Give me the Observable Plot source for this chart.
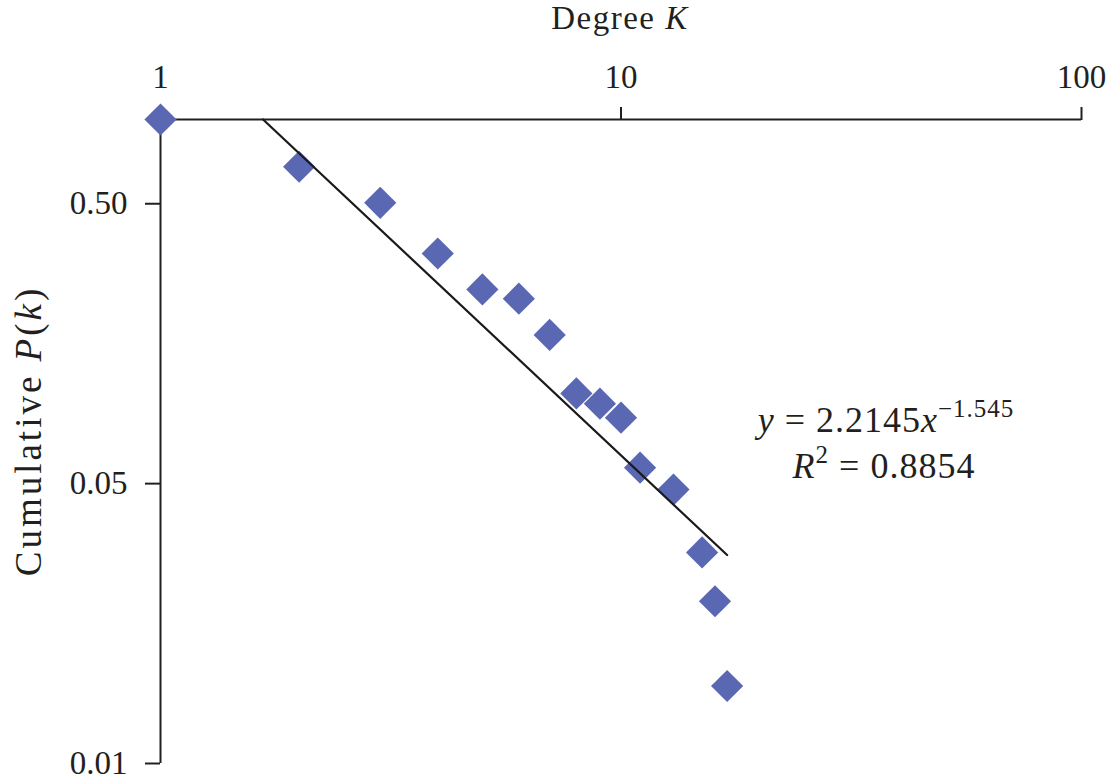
<!DOCTYPE html>
<html>
<head>
<meta charset="utf-8">
<script src="https://cdn.jsdelivr.net/npm/d3@7"></script>
<script src="https://cdn.jsdelivr.net/npm/@observablehq/plot@0.6"></script>
<style>
  html, body { margin: 0; padding: 0; background: #ffffff; }
  #chart { width: 1120px; height: 783px; }
</style>
</head>
<body>
<div id="chart"></div>
<script>
// ---- data ----
const degreeK     = [1, 2, 3, 4, 5, 6, 7, 8, 9, 10, 11, 13, 15, 16, 17];
const cumulativeP = [1.0, 0.678, 0.504, 0.332, 0.247, 0.229, 0.170, 0.105, 0.0965, 0.086, 0.057, 0.0476, 0.0284, 0.019, 0.00946];

// power-law trendline (straight on log-log), endpoints
const trendK = [1.67, 17];
const trendP = [1.0, 0.0278];

const xTicks = [1, 10, 100];
const xTickLabels = ["1", "10", "100"];
const yTicks = [0.5, 0.05, 0.005];
const yTickLabels = ["0.50", "0.05", "0.01"];

const xDomain = [1, 100];
const yDomain = [0.005, 1];

const xTitle = [{t: "Degree "}, {t: "K", i: true}];
const yTitle = [{t: "Cumulative "}, {t: "P", i: true}, {t: "("}, {t: "k", i: true}, {t: ")"}];
const eqLine1 = [{t: "y", i: true}, {t: " = 2.2145"}, {t: "x", i: true}, {t: "\u22121.545", sup: true}];
const eqLine2 = [{t: "R", i: true}, {t: "2", sup: true}, {t: " = 0.8854"}];

// ---- build ----
const points = degreeK.map((k, i) => ({k, p: cumulativeP[i]}));
const trend = trendK.map((k, i) => ({k, p: trendP[i]}));
const yTickRows = yTicks.map((v, i) => ({v, label: yTickLabels[i]}));

function labelFor(ticks, labels) {
  return d => {
    let best = 0, bestErr = Infinity;
    ticks.forEach((v, i) => {
      const e = Math.abs(Math.log(+d) - Math.log(v));
      if (e < bestErr) { bestErr = e; best = i; }
    });
    return labels[best];
  };
}

const ink = "#231f20";
const font = "'Liberation Serif', 'Times New Roman', serif";

const plot = Plot.plot({
  width: 1120,
  height: 783,
  marginLeft: 160,
  marginRight: 39,
  marginTop: 119,
  marginBottom: 20,
  style: {fontFamily: font, fontSize: "33px", color: ink, background: "#ffffff"},
  x: {type: "log", domain: xDomain},
  y: {type: "log", domain: yDomain},
  marks: [
    Plot.axisX({anchor: "top", ticks: xTicks, tickFormat: labelFor(xTicks, xTickLabels), tickSize: 13, tickPadding: 19, strokeWidth: 2, label: null}),
    Plot.axisY({anchor: "left", ticks: yTicks, tickFormat: () => "", tickSize: 15, strokeWidth: 2, label: null}),
    Plot.text(yTickRows, {y: "v", text: "label", frameAnchor: "left", textAnchor: "end", dx: -33, fontSize: 33, fill: ink}),
    Plot.ruleY([yDomain[1]], {stroke: ink, strokeWidth: 2}),
    Plot.ruleX([xDomain[0]], {stroke: ink, strokeWidth: 2}),
    Plot.dot(points, {x: "k", y: "p", symbol: "diamond2", r: 14.5, fill: "#5a68b4"}),
    Plot.line(trend, {x: "k", y: "p", stroke: "#1a1a1a", strokeWidth: 2.2})
  ]
});

document.getElementById("chart").appendChild(plot);

const svg = d3.select(plot.tagName.toLowerCase() === "svg" ? plot : plot.querySelector("svg"));

function rich(parts, attrs, size, supSize, supShift) {
  const t = svg.append("text")
    .attr("fill", ink)
    .attr("font-family", font)
    .attr("font-size", size);
  Object.entries(attrs).forEach(([k, v]) => t.attr(k, v));
  let shifted = false;
  parts.forEach(p => {
    const ts = t.append("tspan").text(p.t);
    if (p.i) ts.attr("font-style", "italic");
    if (p.sup) {
      ts.attr("font-size", supSize).attr("dy", -supShift);
      shifted = true;
    } else if (shifted) {
      ts.attr("dy", supShift);
      shifted = false;
    }
  });
  return t;
}

// axis titles
rich(xTitle, {x: 620, y: 29, "text-anchor": "middle", "letter-spacing": "1.5px"}, 33, 22, 12);
rich(yTitle, {transform: "translate(41,431) rotate(-90)", "text-anchor": "middle", "letter-spacing": "3px"}, 37, 24, 12);

// regression annotation
rich(eqLine1, {x: 886, y: 432, "text-anchor": "middle", "letter-spacing": "1px"}, 36, 25, 15);
rich(eqLine2, {x: 884, y: 478, "text-anchor": "middle", "letter-spacing": "1px"}, 36, 25, 15);
</script>
</body>
</html>
